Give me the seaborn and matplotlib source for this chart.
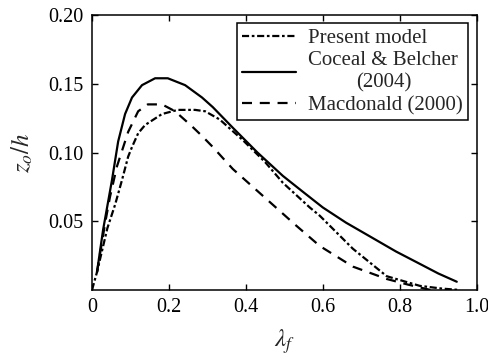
import numpy as np
import pandas as pd
import matplotlib
matplotlib.use("Agg")
import matplotlib.pyplot as plt
import seaborn as sns

# 读取自参考图的数据
present_x = [0.0, 0.013, 0.04, 0.060, 0.078, 0.094, 0.104, 0.120, 0.138, 0.182, 0.223, 0.268,
             0.294, 0.332, 0.392, 0.45, 0.496, 0.566, 0.592, 0.678, 0.766, 0.852, 0.91, 0.956]
present_y = [0.0, 0.013, 0.045, 0.062, 0.080, 0.097, 0.104, 0.114, 0.120, 0.128, 0.131, 0.131,
             0.130, 0.124, 0.109, 0.093, 0.078, 0.060, 0.054, 0.030, 0.010, 0.003, 0.001, 0.0]

coceal_x = [0.013, 0.029, 0.052, 0.068, 0.086, 0.104, 0.130, 0.164, 0.197, 0.242, 0.286,
            0.314, 0.366, 0.43, 0.496, 0.55, 0.6, 0.66, 0.722, 0.79, 0.852, 0.9, 0.948]
coceal_y = [0.013, 0.044, 0.080, 0.108, 0.128, 0.140, 0.149, 0.154, 0.154, 0.149, 0.140,
            0.133, 0.118, 0.100, 0.083, 0.071, 0.060, 0.049, 0.039, 0.028, 0.019, 0.012, 0.006]

macdonald_x = [0.013, 0.035, 0.047, 0.065, 0.094, 0.120, 0.145, 0.182, 0.216, 0.26, 0.286,
               0.314, 0.366, 0.462, 0.53, 0.592, 0.678, 0.766, 0.82, 0.88]
macdonald_y = [0.013, 0.05, 0.068, 0.090, 0.115, 0.130, 0.135, 0.135, 0.130, 0.119, 0.112,
               0.104, 0.088, 0.064, 0.047, 0.032, 0.017, 0.008, 0.004, 0.0]

labels = ["Present model", "Coceal & Belcher\n(2004)", "Macdonald (2000)"]

sns.set_style("ticks")
plt.rcParams["font.family"] = ["Liberation Serif", "DejaVu Serif"]
plt.rcParams["mathtext.fontset"] = "stix"

fig = plt.figure(figsize=(4.88, 3.58), dpi=100)
ax = fig.add_axes([0.1885, 0.19, 0.7885, 0.768])

series = [
    (present_x, present_y, (0, (3.2, 1.2, 1.2, 1.2))),
    (coceal_x, coceal_y, "-"),
    (macdonald_x, macdonald_y, (0, (4.5, 3.5))),
]
for (xs, ys, ls), lab in zip(series, labels):
    df = pd.DataFrame({"x": xs, "y": ys})
    sns.lineplot(data=df, x="x", y="y", ax=ax, sort=False, color="black",
                 linewidth=1.6, linestyle=ls, label=lab)

ax.set_xlim(0, 1.0)
ax.set_ylim(0, 0.20)
ax.set_xticks([0, 0.2, 0.4, 0.6, 0.8, 1.0])
ax.set_xticklabels(["0", "0.2", "0.4", "0.6", "0.8", "1.0"])
ax.set_yticks([0.05, 0.10, 0.15, 0.20])
ax.set_yticklabels(["0.05", "0.10", "0.15", "0.20"])
ax.tick_params(direction="in", length=4, width=1, labelsize=14.5, top=True, right=True,
               colors="black", pad=6)
for sp in ax.spines.values():
    sp.set_visible(True)
    sp.set_linewidth(1.1)
    sp.set_color("black")

ax.set_xlabel(r"$\lambda_f$", fontsize=18, labelpad=7)
ax.set_ylabel(r"$z_o/h$", fontsize=18, labelpad=10)

leg = ax.legend(loc="upper right", fontsize=15, frameon=True, fancybox=False,
                edgecolor="black", framealpha=1, borderaxespad=0.4, handlelength=2.6,
                labelspacing=0.15, borderpad=0.25, handletextpad=0.6)
leg.get_frame().set_linewidth(1.1)
for t in leg.get_texts():
    t.set_multialignment("center")

fig.savefig("out.png", dpi=100)
